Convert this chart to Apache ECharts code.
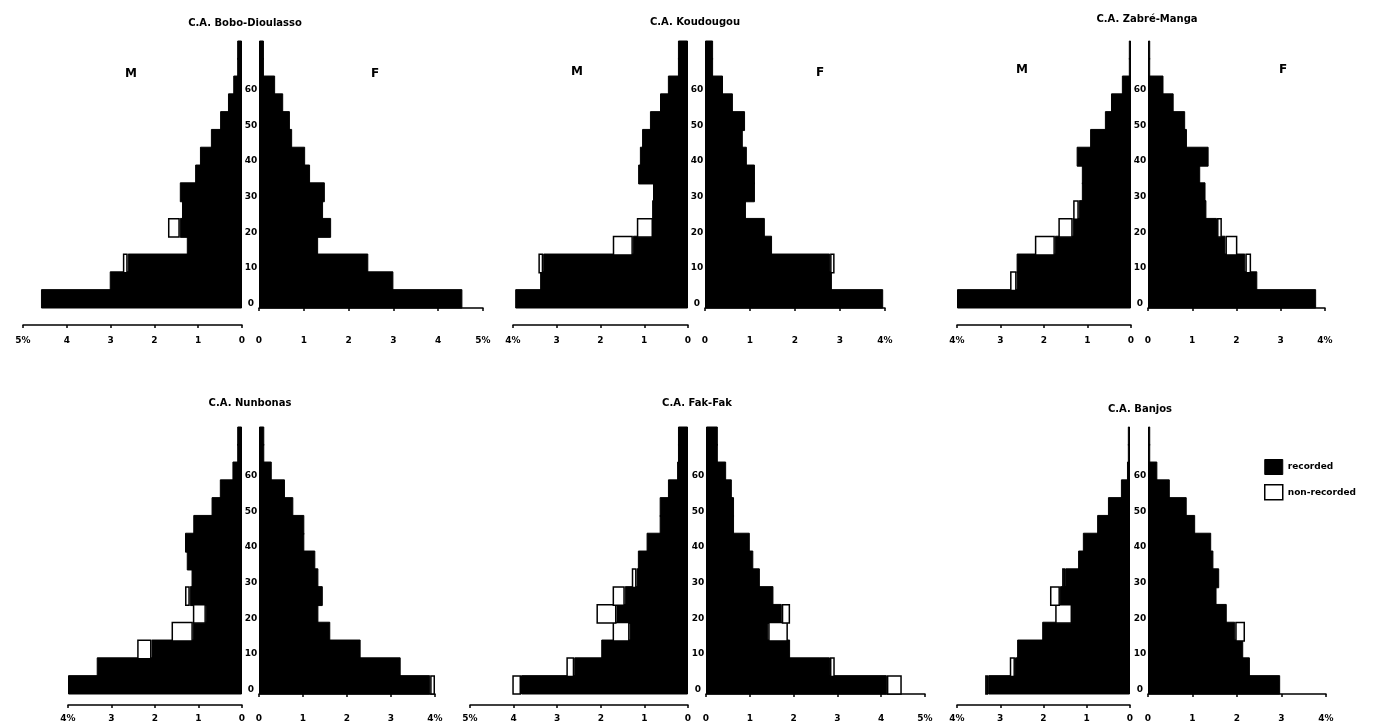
<!DOCTYPE html>
<html><head><meta charset="utf-8">
<script src="https://cdn.jsdelivr.net/npm/echarts/dist/echarts.min.js"></script>
<style>html,body{margin:0;padding:0;background:#fff}#c{width:1383px;height:728px}</style>
</head><body><div id="c"></div><script>
// ---- data ----
const ageGroups = ['0-4','5-9','10-14','15-19','20-24','25-29','30-34','35-39','40-44','45-49','50-54','55-59','60-64','65-69','70+'];
const ageTicks = [0,10,20,30,40,50,60];
const titles = ['C.A. Bobo-Dioulasso','C.A. Koudougou','C.A. Zabré-Manga','C.A. Nunbonas','C.A. Fak-Fak','C.A. Banjos'];
const legendNames = ['recorded','non-recorded'];
const sexLabels = ['M','F'];
const axisMax = [[5,5],[4,4],[4,4],[4,4],[5,5],[4,4]];

const m1Rec = [4.59,3.02,2.61,1.26,1.42,1.37,1.42,1.07,0.96,0.71,0.50,0.32,0.20,0.11,0.11];
const m1Non = [0,0,0.11,0,0.27,0,0,0,0,0,0,0,0,0,0];
const f1Rec = [4.54,3.00,2.44,1.32,1.61,1.43,1.47,1.14,1.03,0.74,0.69,0.54,0.36,0.11,0.11];
const f1Non = [0,0,0,0,0,0,0,0,0,0,0,0,0,0,0];

const m2Rec = [3.95,3.38,3.31,1.26,0.80,0.82,0.80,1.14,1.10,1.05,0.87,0.64,0.46,0.23,0.23];
const m2Non = [0,0,0.11,0.46,0.37,0,0,0,0,0,0,0,0,0,0];
const f2Rec = [3.96,2.82,2.78,1.49,1.33,0.91,1.11,1.11,0.93,0.84,0.89,0.62,0.40,0.18,0.18];
const f2Non = [0,0,0.10,0,0,0,0,0,0,0,0,0,0,0,0];

const m3Rec = [4.00,2.63,2.63,1.75,1.34,1.20,1.13,1.13,1.25,0.94,0.60,0.46,0.21,0.05,0.05];
const m3Non = [0,0.15,0,0.46,0.33,0.13,0,0,0,0,0,0,0,0,0];
const f3Rec = [3.80,2.47,2.20,1.75,1.56,1.32,1.30,1.18,1.37,0.88,0.84,0.58,0.35,0.05,0.05];
const f3Non = [0,0,0.13,0.27,0.11,0,0,0,0,0,0,0,0,0,0];

const m4Rec = [4.00,3.34,2.08,1.13,0.83,1.20,1.16,1.27,1.31,1.12,0.70,0.51,0.22,0.11,0.11];
const m4Non = [0,0,0.33,0.49,0.30,0.11,0,0,0,0,0,0,0,0,0];
const f4Rec = [3.89,3.22,2.31,1.62,1.35,1.45,1.35,1.28,1.03,1.03,0.78,0.59,0.29,0.12,0.12];
const f4Non = [0.11,0,0,0,0,0,0,0,0,0,0,0,0,0,0];

const m5Rec = [3.83,2.61,1.99,1.34,1.64,1.45,1.18,1.15,0.95,0.65,0.65,0.46,0.25,0.23,0.23];
const m5Non = [0.20,0.18,0,0.39,0.46,0.28,0.11,0,0,0,0,0,0,0,0];
const f5Rec = [4.13,2.83,1.92,1.42,1.73,1.54,1.23,1.08,1.00,0.64,0.64,0.59,0.46,0.27,0.27];
const f5Non = [0.34,0.11,0,0.45,0.19,0,0,0,0,0,0,0,0,0,0];

const m6Rec = [3.28,2.66,2.61,2.03,1.34,1.62,1.50,1.20,1.09,0.76,0.51,0.21,0.07,0.05,0.05];
const m6Non = [0.07,0.12,0,0,0.39,0.23,0.07,0,0,0,0,0,0,0,0];
const f6Rec = [2.97,2.29,2.14,1.96,1.77,1.54,1.60,1.47,1.42,1.06,0.87,0.49,0.21,0.05,0.05];
const f6Non = [0,0,0,0.22,0,0,0,0,0,0,0,0,0,0,0];

// ---- layout (positions only) ----
const panelData = [
  [m1Rec,m1Non,f1Rec,f1Non],[m2Rec,m2Non,f2Rec,f2Non],[m3Rec,m3Non,f3Rec,f3Non],
  [m4Rec,m4Non,f4Rec,f4Non],[m5Rec,m5Non,f5Rec,f5Non],[m6Rec,m6Non,f6Rec,f6Non]
];
const layout = [
  {mL:23, mW:219, fL:259, fW:224, top:41, h:267, off:17, lm:11, tx:245, ty:23, M:[131,74], F:[375,74]},
  {mL:513, mW:175, fL:705, fW:180, top:41, h:267, off:17, lm:11, tx:695, ty:22, M:[577,72], F:[820,73]},
  {mL:957, mW:174, fL:1148, fW:177, top:41, h:267, off:17, lm:11, tx:1147, ty:19, M:[1022,70], F:[1283,70]},
  {mL:68, mW:174, fL:259, fW:176, top:427, h:267, off:11, lm:9, tx:250, ty:403},
  {mL:470, mW:218, fL:706, fW:219, top:427, h:267, off:11, lm:9, tx:697, ty:403},
  {mL:957, mW:173, fL:1148, fW:178, top:427, h:267, off:11, lm:9, tx:1140, ty:409}
];

const FONT = '"DejaVu Sans", sans-serif';
const grids = [], xAxes = [], yAxes = [], series = [], graphics = [];

function xAxisFor(gi, max, inverse, off, lm) {
  return {
    type:'value', gridIndex:gi, min:0, max:max, interval:1, inverse:inverse,
    position:'bottom', offset:off,
    axisLine:{show:true, lineStyle:{color:'#000', width:1.5}},
    axisTick:{show:true, length:3, lineStyle:{color:'#000', width:1.5}},
    splitLine:{show:false}, splitArea:{show:false},
    axisLabel:{color:'#000', fontSize:9, fontWeight:'bold', fontFamily:FONT, margin:lm,
      formatter: v => (v === max ? v + '%' : String(v))}
  };
}

panelData.forEach((d, i) => {
  const L = layout[i];
  const mg = grids.length;
  grids.push({left:L.mL, width:L.mW, top:L.top, height:L.h, outerBoundsMode:'none', containLabel:false, show:false});
  const fg = grids.length;
  grids.push({left:L.fL, width:L.fW, top:L.top, height:L.h, outerBoundsMode:'none', containLabel:false, show:false});

  const mx = xAxes.length; xAxes.push(xAxisFor(mg, axisMax[i][0], true, L.off, L.lm));
  const fx = xAxes.length; xAxes.push(xAxisFor(fg, axisMax[i][1], false, L.off, L.lm));

  const hiddenCat = g => ({type:'category', gridIndex:g, data:ageGroups, show:false,
    axisLine:{show:false}, axisTick:{show:false}, axisLabel:{show:false},
    splitLine:{show:false}, splitArea:{show:false}});
  const my = yAxes.length; yAxes.push(hiddenCat(mg));
  const fy = yAxes.length; yAxes.push(hiddenCat(fg));
  yAxes.push({type:'value', gridIndex:fg, min:0, max:75, interval:5, position:'left',
    axisLine:{show:false}, axisTick:{show:false}, splitLine:{show:false}, splitArea:{show:false},
    axisLabel:{show:true, color:'#000', fontSize:9, fontWeight:'bold', fontFamily:FONT,
      margin:8, align:'center', verticalAlign:'bottom',
      formatter: v => (ageTicks.indexOf(v) >= 0 ? String(v) : '')}});

  const sides = [[mx, my, d[0], d[1], 'm'+i], [fx, fy, d[2], d[3], 'f'+i]];
  sides.forEach(([xi, yi, rec, non, st]) => {
    series.push({type:'bar', name:legendNames[0], xAxisIndex:xi, yAxisIndex:yi, stack:st,
      barWidth:'112%', data:rec, silent:true, animation:false,
      itemStyle:{color:'#000', borderColor:'#000', borderWidth:1}});
    series.push({type:'bar', name:legendNames[1], xAxisIndex:xi, yAxisIndex:yi, stack:st,
      barWidth:'100%', data:non.map(v => (v > 0 ? v : null)), silent:true, animation:false,
      itemStyle:{color:'#fff', borderColor:'#000', borderWidth:1.5}});
  });

  graphics.push({type:'text', x:L.tx, y:L.ty, style:{text:titles[i], fill:'#000',
    font:'bold 10px ' + FONT, textAlign:'center', textVerticalAlign:'middle'}});
  if (L.M) {
    graphics.push({type:'text', x:L.M[0], y:L.M[1], style:{text:sexLabels[0], fill:'#000',
      font:'bold 12px ' + FONT, textAlign:'center', textVerticalAlign:'middle'}});
    graphics.push({type:'text', x:L.F[0], y:L.F[1], style:{text:sexLabels[1], fill:'#000',
      font:'bold 12px ' + FONT, textAlign:'center', textVerticalAlign:'middle'}});
  }
});

const chart = echarts.init(document.getElementById('c'));
chart.setOption({
  backgroundColor:'#fff',
  animation:false,
  grid:grids, xAxis:xAxes, yAxis:yAxes, series:series, graphic:graphics,
  legend:{
    orient:'vertical', left:1259, top:454, itemWidth:18, itemHeight:15, itemGap:9,
    icon:'rect', selectedMode:false,
    textStyle:{color:'#000', fontSize:9, fontWeight:'bold', fontFamily:FONT},
    data:[
      {name:legendNames[0], itemStyle:{color:'#000', borderColor:'#000', borderWidth:1}},
      {name:legendNames[1], itemStyle:{color:'#fff', borderColor:'#000', borderWidth:1.5}}
    ]
  }
});
</script></body></html>
